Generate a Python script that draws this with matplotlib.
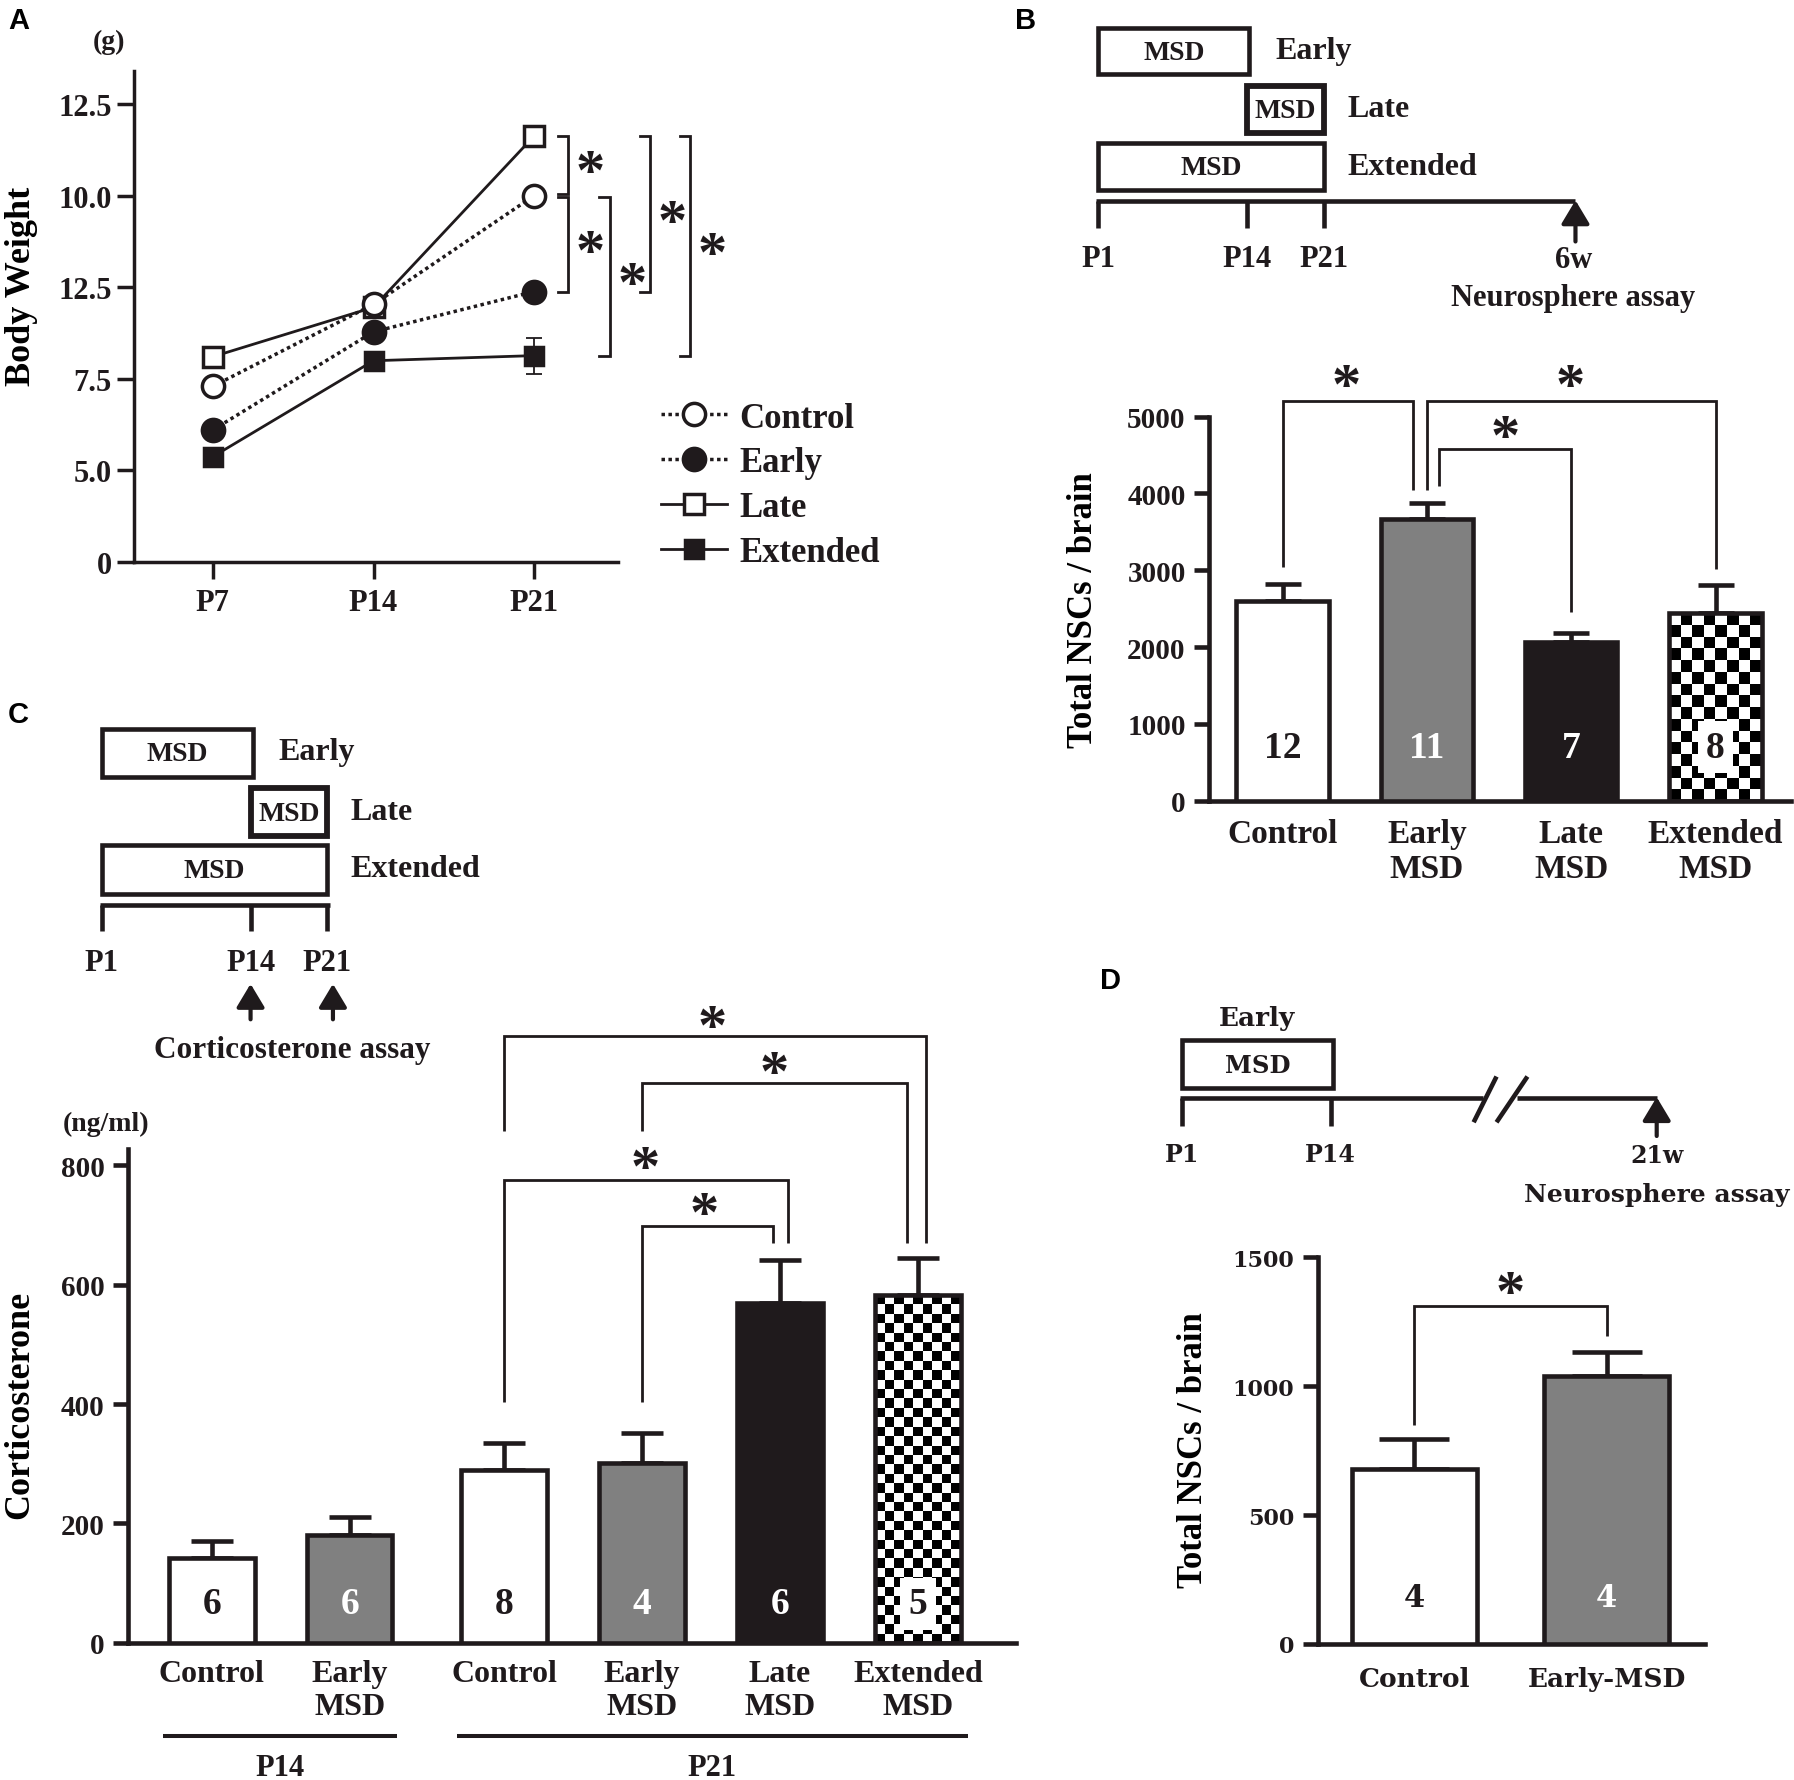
import numpy as np
import matplotlib.pyplot as plt
from matplotlib.patches import Rectangle

K = '#1f1a1c'
GRAY = '#808080'
W, H = 1568.0, 1557.0   # layout units (reference pixels)

plt.rcParams['font.family'] = ['Liberation Serif', 'DejaVu Serif']
plt.rcParams['font.weight'] = 'bold'
plt.rcParams['axes.labelweight'] = 'bold'
plt.rcParams['text.color'] = K
plt.rcParams['axes.edgecolor'] = K
plt.rcParams['xtick.color'] = K
plt.rcParams['ytick.color'] = K

# ---------------- data ----------------
ages = ['P7', 'P14', 'P21']
bw_control = [4.79, 7.03, 10.0]
bw_early = [3.60, 6.28, 7.38]
bw_late = [5.60, 6.95, 11.63]
bw_extended = [2.87, 5.49, 5.63]
bw_control_err = [0.1, 0.1, 0.1]
bw_early_err = [0.1, 0.12, 0.17]
bw_late_err = [0.08, 0.1, 0.1]
bw_extended_err = [0.1, 0.12, 0.49]
bw_ticks = [0, 2.5, 5, 7.5, 10, 12.5]
bw_ticklabels = ['0', '5.0', '7.5', '12.5', '10.0', '12.5']

nsc6_groups = ['Control', 'Early\nMSD', 'Late\nMSD', 'Extended\nMSD']
nsc6 = [2600, 3665, 2065, 2445]
nsc6_err = [225, 215, 115, 365]
nsc6_n = ['12', '11', '7', '8']

cort_groups = ['Control', 'Early\nMSD', 'Control', 'Early\nMSD', 'Late\nMSD', 'Extended\nMSD']
cort = [142, 181, 290, 302, 569, 582]
cort_err = [28, 30, 44, 50, 72, 63]
cort_n = ['6', '6', '8', '4', '6', '5']

nsc21_groups = ['Control', 'Early-MSD']
nsc21 = [680, 1040]
nsc21_err = [114, 94]
nsc21_n = ['4', '4']

fills = {'Control': ('white', K), 'Early': (GRAY, 'white'),
         'Late': (K, 'white'), 'Extended': ('checker', K)}


def box(x0, y0, x1, y1):
    return [x0 / W, 1 - y1 / H, (x1 - x0) / W, (y1 - y0) / H]


def clean(ax, lw):
    for s in ['top', 'right']:
        ax.spines[s].set_visible(False)
    for s in ['left', 'bottom']:
        ax.spines[s].set_linewidth(lw)
    ax.set_facecolor('none')


def checker(ax, xc, width, height, cell):
    (x0, y0), (x1, y1) = ax.transData.transform([(xc - width / 2, 0), (xc + width / 2, height)])
    nx = max(1, int(round((x1 - x0) / cell)))
    ny = max(1, int(round((y1 - y0) / cell)))
    board = np.indices((ny, nx)).sum(axis=0) % 2
    ax.imshow(board, cmap='gray', vmin=0, vmax=1, origin='lower', aspect='auto',
              interpolation='nearest', extent=(xc - width / 2, xc + width / 2, 0, height), zorder=2.5)


def bars(ax, xs, vals, errs, groups, ns, width, lw, cell, capsize, ny, nfs, nfam=None):
    for xi, v, g, n in zip(xs, vals, groups, ns):
        key = 'Early' if g == 'Early-MSD' else g.split('\n')[0]
        fc, tc = fills[key]
        if fc == 'checker':
            checker(ax, xi, width, v, cell)
            fc = 'none'
        ax.bar(xi, v, width, color=fc, edgecolor=K, linewidth=lw, zorder=3)
        kw = {}
        if key == 'Extended':
            kw['bbox'] = dict(facecolor='white', edgecolor='none', pad=6)
        t = ax.text(xi, ny, n, ha='center', va='center', color=tc, fontsize=nfs, zorder=4, **kw)
        if nfam:
            t.set_fontfamily(nfam)
    ax.errorbar(xs, vals, yerr=[np.zeros(len(vals)), errs], fmt='none', ecolor=K,
                elinewidth=lw, capsize=capsize, capthick=lw, zorder=2)


def bracket(ax, xl, yl, xr, yr, ytop, lw=2.0):
    ax.plot([xl, xl, xr, xr], [yl, ytop, ytop, yr], color=K, lw=lw, clip_on=False,
            solid_joinstyle='miter', solid_capstyle='butt', zorder=5)


def star(ax, x, y, fs=42):
    ax.annotate('*', (x, y), xytext=(0, -8), textcoords='offset points', ha='center',
                va='center', fontsize=fs, annotation_clip=False, zorder=5)


fig = plt.figure(figsize=(17.94, 17.81), dpi=100)

# ---------------- A ----------------
axA = fig.add_axes(box(117, 63, 540, 492))
clean(axA, 2.5)
xa = np.arange(1, 4)
hl = axA.plot(xa, bw_late, '-', color=K, lw=2, marker='s', ms=14, mfc='white', mec=K, mew=2.5, zorder=3)[0]
hx = axA.plot(xa, bw_extended, '-', color=K, lw=2, marker='s', ms=13, mfc=K, mec=K, mew=2.5, zorder=3)[0]
he = axA.plot(xa, bw_early, ls=(0, (1, 1)), color=K, lw=2.5, marker='o', ms=16, mfc=K, mec=K, mew=2.5, zorder=4)[0]
hc = axA.plot(xa, bw_control, ls=(0, (1, 1)), color=K, lw=2.5, marker='o', ms=16, mfc='white', mec=K, mew=2.5, zorder=5)[0]
for vals, err in [(bw_late, bw_late_err), (bw_extended, bw_extended_err),
                  (bw_early, bw_early_err), (bw_control, bw_control_err)]:
    axA.errorbar(xa, vals, yerr=err, fmt='none', ecolor=K, elinewidth=1.3, capsize=6, capthick=1.3, zorder=2)
axA.set_xlim(0.509, 3.52)
axA.set_ylim(0, 13.4)
axA.set_xticks(xa, ages)
axA.set_yticks(bw_ticks, bw_ticklabels)
axA.tick_params(axis='both', width=2.5, length=12, labelsize=22)
axA.tick_params(axis='y', pad=4)
axA.tick_params(axis='x', pad=7)
axA.set_ylabel('Body Weight', fontsize=26, va='center')
axA.yaxis.set_label_coords(-0.232, 0.564)
# significance brackets at P21
tk = 0.065
for xb, y0, y1, ys in [(3.21, bw_late[2], bw_control[2] + 0.05, 10.88),
                       (3.21, bw_control[2] - 0.05, bw_early[2], 8.71),
                       (3.47, bw_control[2] - 0.05, bw_extended[2], 7.84),
                       (3.72, bw_late[2], bw_early[2], 9.52),
                       (3.97, bw_late[2], bw_extended[2], 8.66)]:
    axA.plot([xb - tk, xb, xb, xb - tk], [y0, y0, y1, y1], color=K, lw=2, clip_on=False,
             solid_joinstyle='miter')
    star(axA, xb + 0.14, ys)
axA.legend([hc, he, hl, hx], ['Control', 'Early', 'Late', 'Extended'], loc='upper left',
           bbox_to_anchor=(578 / W, 1 - 352 / H), bbox_transform=fig.transFigure, frameon=False,
           fontsize=25, handlelength=1.9, handletextpad=0.35, labelspacing=0.34,
           borderpad=0, borderaxespad=0)

# ---------------- B ----------------
axB = fig.add_axes(box(1057, 365, 1565, 701))
clean(axB, 3.3)
xb_ = np.arange(4)
axB.set_xlim(-0.508, 3.52)
axB.set_ylim(0, 5000)
bars(axB, xb_, nsc6, nsc6_err, nsc6_groups, nsc6_n, 0.64, 3.3, 12, 13, 700, 27)
axB.set_xlim(-0.508, 3.52)
axB.set_ylim(0, 5000)
axB.set_xticks(xb_, nsc6_groups)
axB.set_yticks(range(0, 5001, 1000))
axB.tick_params(axis='y', length=11, width=3.3, pad=6, labelsize=21)
axB.tick_params(axis='x', length=0, pad=12, labelsize=24)
for lb in axB.get_xticklabels():
    lb.set_linespacing(1.18)
axB.set_ylabel('Total NSCs / brain', fontsize=25, va='center')
axB.yaxis.set_label_coords(-0.217, 0.5)
for b in [(0, 3040, 0.903, 4048, 5207), (0.997, 4048, 3, 3013, 5207), (1.087, 4094, 2, 2461, 4577)]:
    bracket(axB, *b)
for s in [(0.44, 5520), (1.99, 5520), (1.54, 4853)]:
    star(axB, *s)

# ---------------- C ----------------
axC = fig.add_axes(box(112, 1005, 888, 1437))
clean(axC, 3.3)
xc_ = np.array([0, 1, 2.12, 3.12, 4.12, 5.12])
axC.set_xlim(-0.606, 5.83)
axC.set_ylim(0, 828)
bars(axC, xc_, cort, cort_err, cort_groups, cort_n, 0.62, 3.3, 9.5, 15, 65, 27)
axC.set_xlim(-0.606, 5.83)
axC.set_ylim(0, 828)
axC.set_xticks(xc_, cort_groups)
axC.set_yticks(range(0, 801, 200))
axC.tick_params(axis='y', length=11, width=3.3, pad=6, labelsize=21)
axC.tick_params(axis='x', length=0, pad=12, labelsize=23)
for lb in axC.get_xticklabels():
    lb.set_linespacing(1.18)
axC.set_ylabel('Corticosterone', fontsize=26, va='center')
axC.yaxis.set_label_coords(-0.122, 0.484)
for b in [(2.12, 858, 5.18, 670, 1016), (3.12, 858, 5.04, 670, 938),
          (2.12, 403, 4.18, 670, 775), (3.12, 403, 4.07, 670, 698)]:
    bracket(axC, *b)
for s in [(3.63, 1047), (4.08, 970), (3.14, 811), (3.57, 734)]:
    star(axC, *s)
tr = axC.get_xaxis_transform()
for (x0, x1, lab) in [(-0.35, 1.34, 'P14'), (1.78, 5.48, 'P21')]:
    axC.plot([x0, x1], [-0.188, -0.188], color=K, lw=2.9, transform=tr, clip_on=False,
             solid_capstyle='butt')
    axC.text((x0 + x1) / 2, -0.252, lab, transform=tr, ha='center', va='center', fontsize=22)

# ---------------- D ----------------
axD = fig.add_axes(box(1152, 1100, 1490, 1438))
clean(axD, 3.3)
xd_ = np.arange(2)
axD.set_xlim(-0.5, 1.51)
axD.set_ylim(0, 1500)
bars(axD, xd_, nsc21, nsc21_err, nsc21_groups, nsc21_n, 0.65, 3.3, 10, 25, 180, 22, 'DejaVu Serif')
axD.set_xlim(-0.5, 1.51)
axD.set_ylim(0, 1500)
axD.set_xticks(xd_, nsc21_groups)
axD.set_yticks([0, 500, 1000, 1500])
axD.tick_params(axis='y', length=11, width=3.3, pad=6, labelsize=16)
axD.tick_params(axis='x', length=0, pad=16, labelsize=19)
for lb in axD.get_xticklabels() + axD.get_yticklabels():
    lb.set_fontfamily('DejaVu Serif')
axD.set_ylabel('Total NSCs / brain', fontsize=25, va='center')
axD.yaxis.set_label_coords(-0.322, 0.503)
bracket(axD, 0, 851, 1, 1194, 1310)
star(axD, 0.5, 1398)

# ---------------- schematics / panel letters ----------------
ov = fig.add_axes([0, 0, 1, 1], zorder=10)
ov.set_xlim(0, W)
ov.set_ylim(H, 0)
ov.axis('off')


def rect(x0, y0, x1, y1, label, lw=3.3, fs=20, fam=None):
    ov.add_patch(Rectangle((x0, y0), x1 - x0, y1 - y0, fill=False, ec=K, lw=lw, joinstyle='miter'))
    t = ov.text((x0 + x1) / 2, (y0 + y1) / 2 + 1, label, ha='center', va='center', fontsize=fs)
    if fam:
        t.set_fontfamily(fam)


def txt(x, y, s, fs=22, ha='center', fam=None):
    t = ov.text(x, y, s, ha=ha, va='center', fontsize=fs)
    if fam:
        t.set_fontfamily(fam)


def line(xs, ys, lw=3.3):
    ov.plot(xs, ys, color=K, lw=lw, solid_capstyle='butt')


def up_arrow(x, y_tip, y_tail, lw=3.0):
    ov.annotate('', xy=(x, y_tip), xytext=(x, y_tail),
                arrowprops=dict(arrowstyle='-|>,head_width=0.33,head_length=0.55', lw=lw,
                                color=K, mutation_scale=26, shrinkA=0, shrinkB=0))


# B timeline
rect(960, 25, 1092, 66, 'MSD')
rect(1090, 76, 1157, 117, 'MSD', lw=4.2)
rect(960, 126, 1157, 167, 'MSD')
txt(1115, 45, 'Early', 23, 'left')
txt(1178, 96, 'Late', 23, 'left')
txt(1178, 146, 'Extended', 23, 'left')
line([958, 1377], [177, 177])
for xt, lab in [(960, 'P1'), (1090, 'P14'), (1157, 'P21')]:
    line([xt, xt], [177, 200])
    txt(xt, 227, lab)
up_arrow(1377, 176, 212)
txt(1375, 228, '6w')
txt(1375, 261, 'Neurosphere assay')

# C timeline
rect(89, 638, 221, 680, 'MSD')
rect(219, 690, 286, 732, 'MSD', lw=4.2)
rect(89, 740, 286, 782, 'MSD')
txt(243, 658, 'Early', 23, 'left')
txt(306, 710, 'Late', 23, 'left')
txt(306, 760, 'Extended', 23, 'left')
line([87, 288], [792, 792])
for xt, lab in [(89, 'P1'), (219, 'P14'), (286, 'P21')]:
    line([xt, xt], [792, 815])
    txt(xt, 842, lab)
up_arrow(219, 861, 892)
up_arrow(291, 861, 892)
txt(255, 918, 'Corticosterone assay', 22.5)

# D timeline
DF = 'DejaVu Serif'
txt(1099, 890, 'Early', 19, fam=DF)
rect(1033, 910, 1165, 952, 'MSD', lw=3.3, fs=17.5, fam=DF)
line([1031, 1296], [961, 961])
line([1326, 1448], [961, 961])
line([1288, 1308], [982, 942])
line([1308, 1335], [982, 942])
for xt, lab in [(1033, 'P1'), (1163, 'P14')]:
    line([xt, xt], [961, 985])
    txt(xt, 1010, lab, 17, fam=DF)
up_arrow(1448, 960, 994)
txt(1448, 1011, '21w', 17, fam=DF)
txt(1448, 1045, 'Neurosphere assay', 18, fam=DF)

# units and panel letters
txt(95, 37, '(g)', 20)
txt(93, 983, '(ng/ml)', 20)
for (xl, yl, lab) in [(16, 18, 'A'), (896, 18, 'B'), (16, 625, 'C'), (971, 858, 'D')]:
    ov.text(xl, yl, lab, ha='center', va='center', fontsize=21, fontweight='bold',
            family='Liberation Sans', color='black')

fig.savefig('out.png', dpi=100)
